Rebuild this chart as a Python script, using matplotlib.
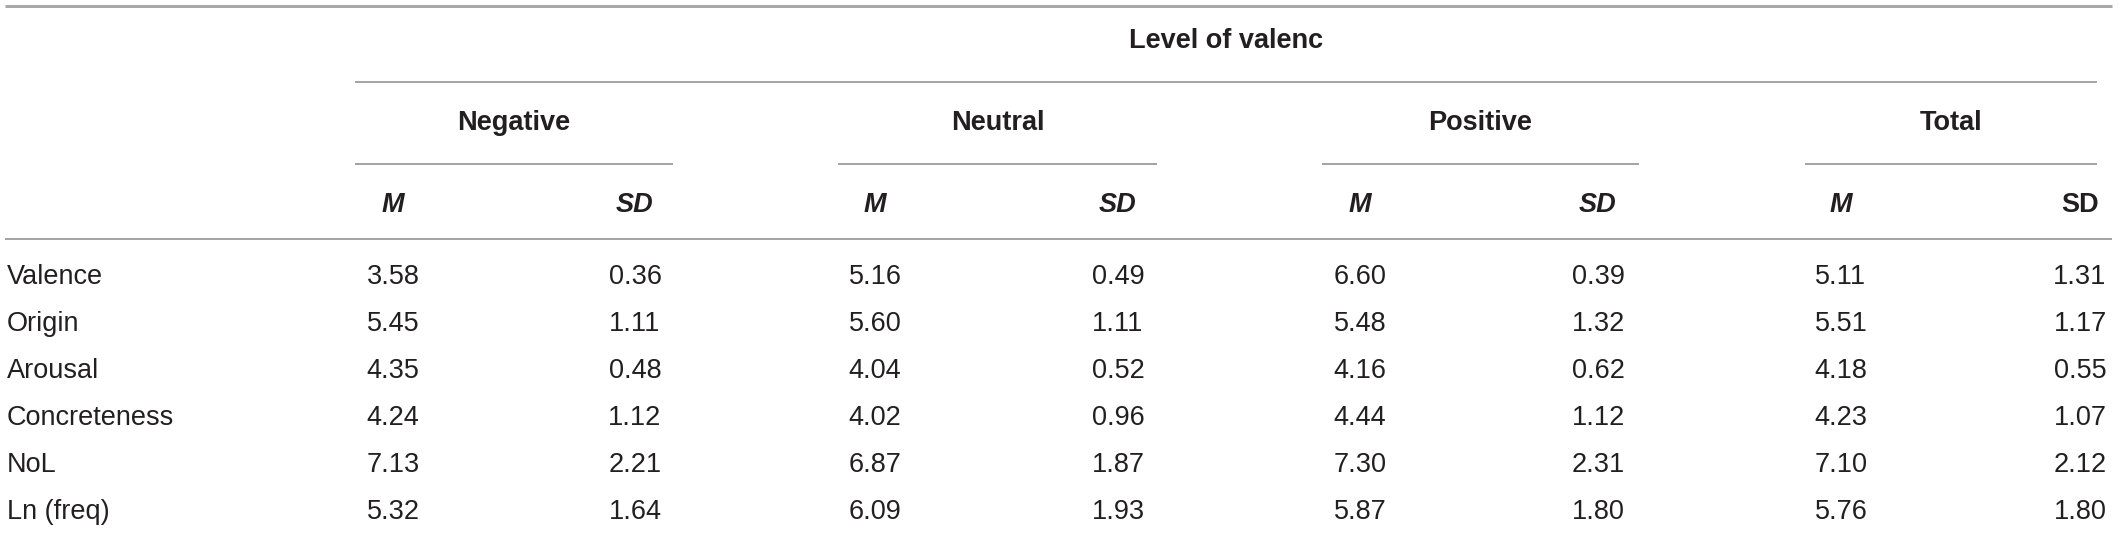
import matplotlib
matplotlib.use("Agg")
import matplotlib.pyplot as plt

# ---- data ----
row_labels = ["Valence", "Origin", "Arousal", "Concreteness", "NoL", "Ln (freq)"]
groups = ["Negative", "Neutral", "Positive", "Total"]
negative_m = ["3.58", "5.45", "4.35", "4.24", "7.13", "5.32"]
negative_sd = ["0.36", "1.11", "0.48", "1.12", "2.21", "1.64"]
neutral_m = ["5.16", "5.60", "4.04", "4.02", "6.87", "6.09"]
neutral_sd = ["0.49", "1.11", "0.52", "0.96", "1.87", "1.93"]
positive_m = ["6.60", "5.48", "4.16", "4.44", "7.30", "5.87"]
positive_sd = ["0.39", "1.32", "0.62", "1.12", "2.31", "1.80"]
total_m = ["5.11", "5.51", "4.18", "4.23", "7.10", "5.76"]
total_sd = ["1.31", "1.17", "0.55", "1.07", "2.12", "1.80"]
spanner = "Level of valenc"
sub_headers = ["M", "SD", "M", "SD", "M", "SD", "M", "SD"]

columns = [negative_m, negative_sd, neutral_m, neutral_sd,
           positive_m, positive_sd, total_m, total_sd]

# ---- layout (pixel space) ----
W, H = 2118, 533
fig = plt.figure(figsize=(W / 100, H / 100), dpi=100)
ax = fig.add_axes([0, 0, 1, 1])
ax.set_xlim(0, W)
ax.set_ylim(H, 0)
ax.axis("off")

FONT = ["Liberation Sans", "DejaVu Sans"]
TXT = "#231f20"
LINE = "#9b9b9b"
FS = 19.5

col_x = [393, 635, 875, 1118, 1360, 1598, 1841, 2080]
group_spans = [(355, 673), (838, 1157), (1322, 1639), (1805, 2097)]
row_y0, row_pitch = 277, 47

px = 72 / 100
# horizontal rules
ax.plot([5, 2112], [6, 6], color="#a8a8a8", lw=3 * px, solid_capstyle="butt")
ax.plot([355, 2097], [82, 82], color=LINE, lw=1.8 * px, solid_capstyle="butt")
for (a, b) in group_spans:
    ax.plot([a, b], [164, 164], color=LINE, lw=1.8 * px, solid_capstyle="butt")
ax.plot([5, 2112], [239, 239], color=LINE, lw=1.8 * px, solid_capstyle="butt")

# spanner
ax.text((355 + 2097) / 2, 41, spanner, ha="center", va="center",
        fontsize=FS, fontweight="bold", color=TXT, family=FONT)
# group headers
for g, (a, b) in zip(groups, group_spans):
    ax.text((a + b) / 2, 123, g, ha="center", va="center",
            fontsize=FS, fontweight="bold", color=TXT, family=FONT)
# sub headers
for i, (s, x) in enumerate(zip(sub_headers, col_x)):
    style = "normal" if i == len(sub_headers) - 1 else "italic"
    ax.text(x, 205, s, ha="center", va="center", fontsize=FS,
            fontweight="bold", fontstyle=style, color=TXT, family=FONT)

# body
for r, lab in enumerate(row_labels):
    y = row_y0 + r * row_pitch
    ax.text(7, y, lab, ha="left", va="center", fontsize=FS,
            color=TXT, family=FONT)
    for c, (vals, x) in enumerate(zip(columns, col_x)):
        ax.text(x, y, vals[r], ha="center", va="center", fontsize=FS,
                color=TXT, family=FONT)

fig.savefig("out.png", dpi=100, facecolor="white")
